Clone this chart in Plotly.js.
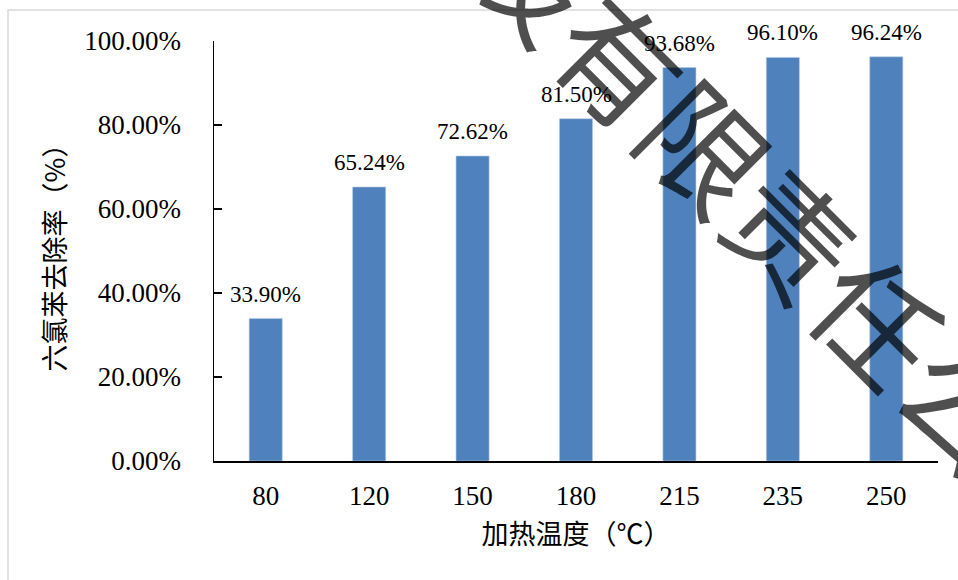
<!DOCTYPE html>
<html>
<head>
<meta charset="utf-8">
<script src="https://cdn.plot.ly/plotly-3.0.1.min.js"></script>
<style>
  html, body { margin: 0; padding: 0; background: #ffffff; }
  #chart { width: 958px; height: 580px; }
</style>
</head>
<body>
<div id="chart"></div>
<script>
// Heating temperature (°C) categories and hexachlorobenzene removal rate
const categories = ['80', '120', '150', '180', '215', '235', '250'];
const removalRate = [0.3390, 0.6524, 0.7262, 0.8150, 0.9368, 0.9610, 0.9624];
const yTickVals = [0, 0.2, 0.4, 0.6, 0.8, 1.0];

const xTitle = '加热温度（℃）';
const yTitle = '六氯苯去除率（%）';
const watermarkText = '技有限责任公';

const serif = 'Liberation Serif';
const cjk = 'Noto Sans CJK SC';

const pct = v => (v * 100).toFixed(2) + '%';

const bars = {
  type: 'bar',
  x: categories,
  y: removalRate,
  marker: { color: '#4F81BD', line: { color: '#B9CDE5', width: 0.6 } },
  hoverinfo: 'skip'
};

// value labels above each bar (category axes take the serial index)
const valueLabels = categories.map((c, i) => ({
  x: i, y: removalRate[i], xref: 'x', yref: 'y',
  text: pct(removalRate[i]),
  showarrow: false, yanchor: 'bottom', yshift: 10,
  font: { family: serif, size: 23, color: '#000000' }
}));

// diagonal watermark laid over the plot
const watermark = {
  xref: 'paper', yref: 'paper',
  x: (752 - 214) / 724, y: (461 - 187) / 420,
  xanchor: 'center', yanchor: 'middle',
  text: watermarkText, textangle: 45, showarrow: false,
  font: { family: cjk, size: 122, color: 'rgba(0,0,0,0.69)' }
};

const layout = {
  width: 958, height: 580,
  margin: { l: 214, r: 20, t: 41, b: 119, pad: 0 },
  paper_bgcolor: '#ffffff', plot_bgcolor: '#ffffff',
  showlegend: false,
  bargap: 0.68,
  xaxis: {
    type: 'category', range: [-0.5, categories.length - 0.5],
    showline: true, linecolor: '#000000', linewidth: 1.5,
    ticks: '', showgrid: false, zeroline: false,
    tickfont: { family: serif, size: 27, color: '#000000' },
    ticklabelstandoff: 10,
    title: { text: xTitle, standoff: 15, font: { family: cjk, size: 27, color: '#000000' } }
  },
  yaxis: {
    range: [0, 1], tickvals: yTickVals, tickformat: '.2%',
    showline: true, linecolor: '#000000', linewidth: 1.5,
    ticks: 'inside', ticklen: 8, tickwidth: 1.5, tickcolor: '#000000',
    showgrid: false, zeroline: false,
    tickfont: { family: serif, size: 27, color: '#000000' },
    ticklabelstandoff: 26,
    title: { text: yTitle, standoff: 11, font: { family: cjk, size: 27, color: '#000000' } }
  },
  shapes: [{
    type: 'rect', xref: 'paper', yref: 'paper',
    x0: (8 - 214) / 724, x1: 1.2, y0: -0.6, y1: (461 - 10) / 420,
    line: { color: '#d9d9d9', width: 1.5 }, fillcolor: 'rgba(0,0,0,0)', layer: 'below'
  }],
  annotations: valueLabels.concat([watermark])
};

Plotly.newPlot('chart', [bars], layout, { displayModeBar: false, staticPlot: true });
</script>
</body>
</html>
